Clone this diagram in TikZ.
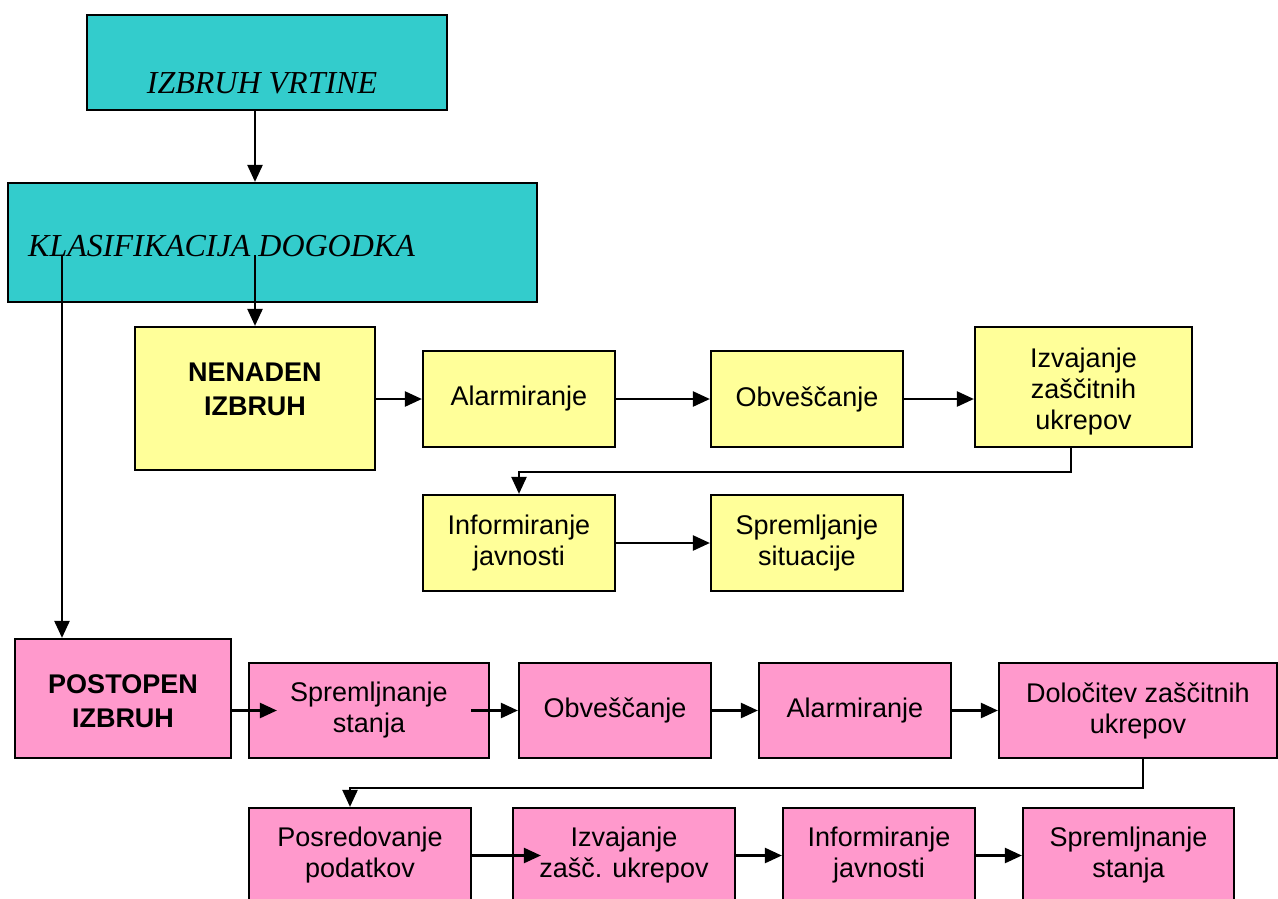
\documentclass[tikz,border=0pt]{standalone}
\usepackage{fontspec}
\setmainfont{Liberation Serif}
\setsansfont{Liberation Sans}
\usetikzlibrary{arrows.meta,calc}
\definecolor{cyanbox}{HTML}{33CCCC}
\definecolor{yelbox}{HTML}{FFFF99}
\definecolor{pinkbox}{HTML}{FF99CC}
\begin{document}
\begin{tikzpicture}[x=1pt,y=-1pt,
  box/.style={draw=black,line width=2.2pt,inner sep=0pt,align=center,
    font=\sffamily\fontsize{27}{31}\selectfont},
  ybox/.style={box,fill=yelbox},
  pbox/.style={box,fill=pinkbox},
  cbox/.style={draw=black,line width=2.2pt,inner sep=0pt,fill=cyanbox},
  ctext/.style={inner sep=0pt,font=\rmfamily\itshape\fontsize{32}{36}\selectfont},
  btext/.style={inner sep=0pt,align=center,font=\sffamily\bfseries\fontsize{27}{34}\selectfont},
  arr/.style={line width=2.4pt,-{Triangle[length=17pt,width=15pt]}}]
\useasboundingbox (0,0) rectangle (1278,898);
\clip (0,0) rectangle (1278,898);

% cyan boxes
\node[cbox,minimum width=360pt,minimum height=95pt] (izb) at (267,62.5) {};
\node[ctext,anchor=base] (izbt) at (262,93) {IZBRUH VRTINE};
\node[cbox,minimum width=529pt,minimum height=119pt] (klas) at (272.5,242.5) {};
\node[ctext,anchor=base west] (klast) at (28,256) {KLASIFIKACIJA DOGODKA};
\coordinate (k1) at (62,255);
\coordinate (k2) at (255,255);

% yellow branch
\node[ybox,minimum width=240pt,minimum height=143pt] (nen) at (255,398.5) {};
\node[btext] (nent) at (255,389) {NENADEN\\IZBRUH};
\node[ybox,minimum width=192pt,minimum height=96pt] (al1) at (519,399) {Alarmiranje};
\node[ybox,minimum width=192pt,minimum height=96pt] (ob1) at (807,399) {Obveščanje};
\node[ybox,minimum width=217pt,minimum height=120pt] (iz1) at (1083.5,387) {};
\node[box,draw=none] (iz1t) at (1083.5,392) {Izvajanje\\zaščitnih\\ukrepov};
\node[ybox,minimum width=192pt,minimum height=96pt] (inf1) at (519,543) {Informiranje\\javnosti};
\node[ybox,minimum width=192pt,minimum height=96pt] (sp1) at (807,543) {Spremljanje\\situacije};

% pink branch
\node[pbox,minimum width=216pt,minimum height=119pt] (post) at (123,698.5) {};
\node[btext] (postt) at (123,701) {POSTOPEN\\IZBRUH};
\node[pbox,minimum width=240pt,minimum height=95pt] (sp2) at (369,710.5) {Spremljnanje\\stanja};
\node[pbox,minimum width=192pt,minimum height=95pt] (ob2) at (615,710.5) {Obveščanje};
\node[pbox,minimum width=192pt,minimum height=95pt] (al2) at (855,710.5) {Alarmiranje};
\node[pbox,minimum width=278pt,minimum height=95pt] (dol) at (1138,710.5) {Določitev zaščitnih\\ukrepov};
\node[pbox,minimum width=222pt,minimum height=95pt] (pos) at (360,855.5) {Posredovanje\\podatkov};
\node[pbox,minimum width=222pt,minimum height=95pt] (izz) at (624,855.5) {Izvajanje\\zašč. ukrepov};
\node[pbox,minimum width=192pt,minimum height=95pt] (inf2) at (879,855.5) {Informiranje\\javnosti};
\node[pbox,minimum width=211pt,minimum height=95pt] (sp3) at (1128.5,855.5) {Spremljnanje\\stanja};

% connectors
\draw[arr] ([xshift=-12pt]izb.south) -- ([xshift=-12pt]izb.south |- klas.north);
\draw[arr] (k2) -- (k2 |- nen.north);
\draw[arr] (k1) -- (k1 |- post.north);

\draw[arr] (nen.east |- al1.west) -- (al1.west);
\draw[arr] (al1.east) -- (ob1.west);
\draw[arr] (ob1.east) -- (ob1.east -| iz1.west);
\draw[arr] ([xshift=-12.5pt]iz1.south) -- ++(0,24) -| (inf1.north);
\draw[arr] (inf1.east) -- (sp1.west);

\draw[arr] (post.east |- sp2.west) -- ([xshift=29pt]sp2.west);
\draw[arr] ([xshift=-19pt]sp2.east) -- (ob2.west);
\draw[arr] (ob2.east) -- (al2.west);
\draw[arr] (al2.east) -- (dol.west);
\draw[arr] ([xshift=5pt]dol.south) -- ++(0,29) -| ([xshift=-10pt]pos.north);
\draw[arr] (pos.east) -- ([xshift=29pt]izz.west);
\draw[arr] (izz.east) -- (inf2.west);
\draw[arr] (inf2.east) -- (sp3.west);
\end{tikzpicture}
\end{document}
